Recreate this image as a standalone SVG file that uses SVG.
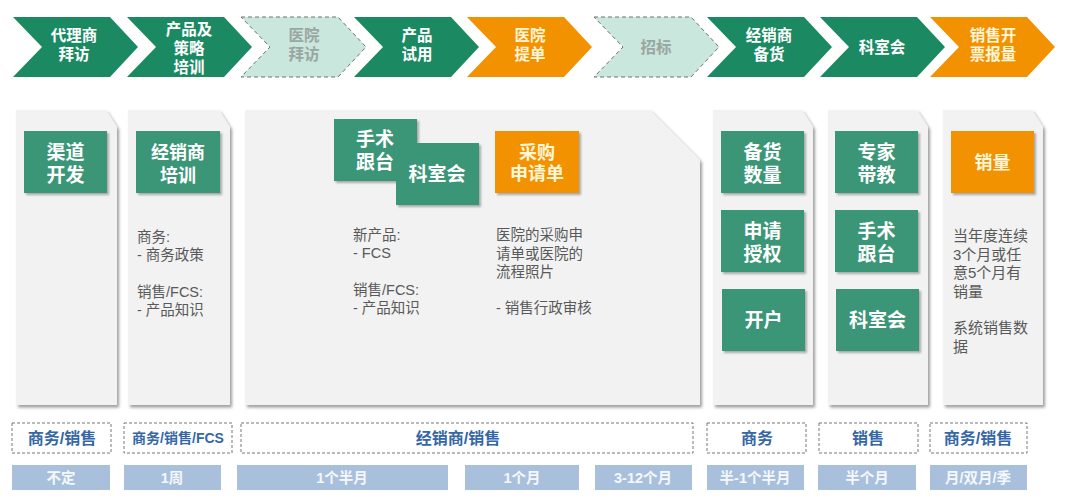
<svg xmlns="http://www.w3.org/2000/svg" width="1080" height="499" viewBox="0 0 1080 499">
<defs>
<filter id="sh" x="-10%" y="-10%" width="130%" height="130%">
<feDropShadow dx="2" dy="2.5" stdDeviation="1.5" flood-color="#000" flood-opacity="0.38"/>
</filter>
<filter id="bsh" x="-10%" y="-10%" width="130%" height="130%">
<feDropShadow dx="2" dy="2" stdDeviation="1.2" flood-color="#000" flood-opacity="0.3"/>
</filter>
<path id="chev" d="M0,17 H97 L125,47 L97,77 H0 L29,47 Z"/>
</defs>
<style>
text{font-family:"Liberation Sans","Noto Sans CJK SC",sans-serif}
.cg{fill:#1b8a63}
.co{fill:#f39200}
.cd{fill:#c9e7dc;stroke:#707070;stroke-width:1;stroke-dasharray:4,3}
.ct{fill:#fff;font-size:15.5px;font-weight:bold;text-anchor:middle}
.cto{fill:#fff6d8;font-size:15.5px;font-weight:bold;text-anchor:middle}
.ctd{fill:#9aa6a2;font-size:15.5px;font-weight:bold;text-anchor:middle}
.pn{fill:#f2f2f2;filter:url(#sh)}
.bg{fill:#3a9678;filter:url(#bsh)}
.bo{fill:#f39200;filter:url(#bsh)}
.bt{fill:#fff;font-size:19px;font-weight:bold;text-anchor:middle}
.bt3{fill:#fff;font-size:18px;font-weight:bold;text-anchor:middle}
.bto{fill:#fff6d8;font-size:18px;font-weight:bold;text-anchor:middle}
.tx{fill:#595959;font-size:14.5px}
.tx6{fill:#595959;font-size:15px}
.db{fill:#fff;stroke:#777;stroke-width:1;stroke-dasharray:3,2}
.dt{fill:#3567a6;font-size:16px;font-weight:bold;text-anchor:middle}
.dts{fill:#3567a6;font-size:14px;font-weight:bold;text-anchor:middle}
.bar{fill:#a9c0dd}
.brt{fill:#f4f8fc;font-size:14.5px;font-weight:bold;text-anchor:middle}
</style>
<rect width="1080" height="499" fill="#fff"/>

<g id="stages">
<g id="s1"><use href="#chev" x="13" class="cg"/><text class="ct" x="74" y="41">代理商</text><text class="ct" x="74" y="60">拜访</text></g>
<g id="s2"><use href="#chev" x="127" class="cg"/><text class="ct" x="189" y="35">产品及</text><text class="ct" x="189" y="54">策略</text><text class="ct" x="189" y="73">培训</text></g>
<g id="s3"><use href="#chev" x="241" class="cd"/><text class="ctd" x="304" y="41">医院</text><text class="ctd" x="304" y="60">拜访</text></g>
<g id="s4"><use href="#chev" x="354" class="cg"/><text class="ct" x="417" y="41">产品</text><text class="ct" x="417" y="60">试用</text></g>
<g id="s5"><use href="#chev" x="467" class="co"/><text class="cto" x="530" y="41">医院</text><text class="cto" x="530" y="60">提单</text></g>
<g id="s6"><use href="#chev" x="594" class="cd"/><text class="ctd" x="656" y="52.5">招标</text></g>
<g id="s7"><use href="#chev" x="707" class="cg"/><text class="ct" x="769" y="41">经销商</text><text class="ct" x="769" y="60">备货</text></g>
<g id="s8"><use href="#chev" x="820" class="cg"/><text class="ct" x="882" y="52.5">科室会</text></g>
<g id="s9"><use href="#chev" x="930" class="co"/><text class="cto" x="993" y="41">销售开</text><text class="cto" x="993" y="60">票报量</text></g>
</g>

<g id="panel1">
<path class="pn" d="M16,110 H106 L117,127 V405 H16 Z"/>
<rect class="bg" x="24" y="131" width="83" height="62"/>
<text class="bt" x="65.5" y="159">渠道</text><text class="bt" x="65.5" y="182">开发</text>
</g>

<g id="panel2">
<path class="pn" d="M128,110 H219 L230,127 V405 H128 Z"/>
<rect class="bg" x="136" y="131" width="84" height="62"/>
<text class="bt3" x="178" y="159">经销商</text><text class="bt3" x="178" y="182">培训</text>
<text class="tx" x="137" y="242">商务:</text>
<text class="tx" x="137" y="260">- 商务政策</text>
<text class="tx" x="137" y="297">销售/FCS:</text>
<text class="tx" x="137" y="315">- 产品知识</text>
</g>

<g id="panel3">
<path class="pn" d="M245,110 H650 L700,160 V405 H245 Z"/>
<rect class="bg" x="334" y="119" width="83" height="62"/>
<text class="bt" x="375" y="146">手术</text><text class="bt" x="375" y="169">跟台</text>
<rect class="bg" x="396" y="143" width="83" height="62"/>
<text class="bt" x="437" y="181">科室会</text>
<rect class="bo" x="495" y="131" width="84" height="62"/>
<text class="bto" x="537" y="159">采购</text><text class="bto" x="537" y="180">申请单</text>
<text class="tx" x="353" y="240">新产品:</text>
<text class="tx" x="353" y="258">- FCS</text>
<text class="tx" x="353" y="295">销售/FCS:</text>
<text class="tx" x="353" y="313">- 产品知识</text>
<text class="tx" x="496" y="240">医院的采购申</text>
<text class="tx" x="496" y="258.5">请单或医院的</text>
<text class="tx" x="496" y="277">流程照片</text>
<text class="tx" x="496" y="313">- 销售行政审核</text>
</g>

<g id="panel4">
<path class="pn" d="M713,110 H802 L813,127 V405 H713 Z"/>
<rect class="bg" x="721" y="131" width="83" height="62"/>
<text class="bt" x="762.5" y="159">备货</text><text class="bt" x="762.5" y="182">数量</text>
<rect class="bg" x="721" y="210" width="83" height="62"/>
<text class="bt" x="762.5" y="238">申请</text><text class="bt" x="762.5" y="261">授权</text>
<rect class="bg" x="722" y="289" width="83" height="62"/>
<text class="bt" x="763.5" y="327">开户</text>
</g>

<g id="panel5">
<path class="pn" d="M828,110 H917 L928,127 V405 H828 Z"/>
<rect class="bg" x="835" y="131" width="83" height="62"/>
<text class="bt" x="876.5" y="159">专家</text><text class="bt" x="876.5" y="182">带教</text>
<rect class="bg" x="835" y="210" width="83" height="62"/>
<text class="bt" x="876.5" y="238">手术</text><text class="bt" x="876.5" y="261">跟台</text>
<rect class="bg" x="836" y="289" width="83" height="62"/>
<text class="bt" x="877.5" y="327">科室会</text>
</g>

<g id="panel6">
<path class="pn" d="M943,110 H1032 L1043,127 V405 H943 Z"/>
<rect class="bo" x="951" y="131" width="83" height="62"/>
<text class="bto" x="992.5" y="169">销量</text>
<text class="tx6" x="953" y="241">当年度连续</text>
<text class="tx6" x="953" y="259.5">3个月或任</text>
<text class="tx6" x="953" y="278">意5个月有</text>
<text class="tx6" x="953" y="296.5">销量</text>
<text class="tx6" x="953" y="333">系统销售数</text>
<text class="tx6" x="953" y="352">据</text>
</g>

<g id="roles">
<rect class="db" x="12" y="423" width="99" height="30"/><text class="dt" x="62" y="444">商务/销售</text>
<rect class="db" x="124" y="423" width="108" height="30"/><text class="dts" x="178" y="443">商务/销售/FCS</text>
<rect class="db" x="241" y="423" width="452" height="30"/><text class="dt" x="458" y="444">经销商/销售</text>
<rect class="db" x="707" y="423" width="99" height="30"/><text class="dt" x="757" y="444">商务</text>
<rect class="db" x="819" y="423" width="99" height="30"/><text class="dt" x="868" y="444">销售</text>
<rect class="db" x="930" y="423" width="97" height="30"/><text class="dt" x="978" y="444">商务/销售</text>
</g>

<g id="durations">
<rect class="bar" x="12" y="465" width="98" height="25"/><text class="brt" x="61" y="483">不定</text>
<rect class="bar" x="124" y="465" width="97" height="25"/><text class="brt" x="172" y="483">1周</text>
<rect class="bar" x="237" y="465" width="211" height="25"/><text class="brt" x="342" y="483">1个半月</text>
<rect class="bar" x="465" y="465" width="114" height="25"/><text class="brt" x="522" y="483">1个月</text>
<rect class="bar" x="595" y="465" width="97" height="25"/><text class="brt" x="643" y="483">3-12个月</text>
<rect class="bar" x="707" y="465" width="97" height="25"/><text class="brt" x="755" y="483">半-1个半月</text>
<rect class="bar" x="818" y="465" width="98" height="25"/><text class="brt" x="867" y="483">半个月</text>
<rect class="bar" x="930" y="465" width="97" height="25"/><text class="brt" x="978" y="483">月/双月/季</text>
</g>
</svg>
